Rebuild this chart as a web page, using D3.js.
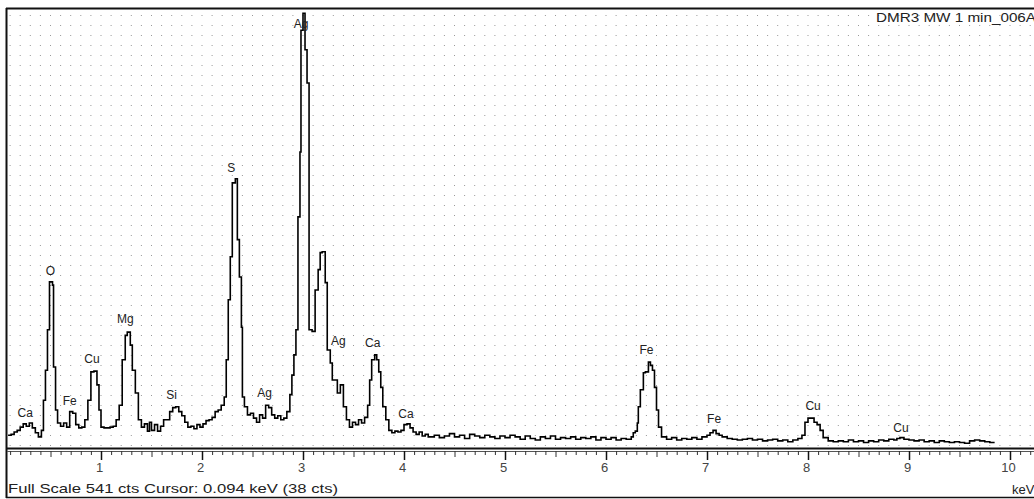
<!DOCTYPE html>
<html><head><meta charset="utf-8">
<script src="https://cdn.jsdelivr.net/npm/d3@7"></script>
<style>html,body{margin:0;padding:0;background:#fff;overflow:hidden}svg{display:block}</style>
</head><body>
<script>
// ---- data ----
const energyKeV = [0.08,0.11,0.14,0.17,0.20,0.23,0.26,0.29,0.32,0.35,0.38,0.41,0.43,0.45,0.47,0.49,0.52,0.53,0.55,0.57,0.60,0.63,0.66,0.69,0.72,0.75,0.78,0.81,0.84,0.87,0.90,0.93,0.96,0.98,1.00,1.03,1.06,1.09,1.12,1.15,1.18,1.21,1.24,1.26,1.29,1.31,1.34,1.37,1.40,1.43,1.46,1.48,1.50,1.53,1.56,1.59,1.62,1.65,1.68,1.71,1.74,1.77,1.80,1.83,1.86,1.89,1.92,1.95,1.98,2.01,2.04,2.07,2.10,2.13,2.16,2.19,2.22,2.24,2.26,2.28,2.30,2.33,2.35,2.37,2.39,2.40,2.42,2.45,2.48,2.51,2.54,2.57,2.60,2.63,2.66,2.69,2.72,2.75,2.78,2.81,2.84,2.87,2.89,2.91,2.93,2.95,2.97,2.98,3.00,3.02,3.04,3.06,3.09,3.12,3.15,3.17,3.19,3.22,3.24,3.27,3.29,3.32,3.34,3.37,3.40,3.43,3.46,3.49,3.52,3.55,3.58,3.61,3.64,3.66,3.68,3.71,3.73,3.75,3.77,3.79,3.82,3.85,3.88,3.91,3.94,3.97,4.00,4.03,4.06,4.09,4.12,4.15,4.18,4.21,4.24,4.30,4.35,4.40,4.45,4.50,4.55,4.60,4.65,4.70,4.75,4.80,4.85,4.90,4.95,5.00,5.05,5.10,5.15,5.20,5.25,5.30,5.35,5.40,5.45,5.50,5.55,5.60,5.65,5.70,5.75,5.80,5.85,5.90,5.95,6.00,6.05,6.10,6.15,6.20,6.25,6.27,6.29,6.31,6.32,6.34,6.37,6.39,6.42,6.44,6.46,6.48,6.50,6.52,6.55,6.60,6.65,6.70,6.75,6.80,6.85,6.90,6.95,7.00,7.03,7.06,7.09,7.12,7.15,7.20,7.25,7.30,7.35,7.40,7.45,7.50,7.55,7.60,7.65,7.70,7.75,7.80,7.85,7.90,7.94,7.97,8.00,8.03,8.06,8.09,8.12,8.15,8.20,8.25,8.30,8.35,8.40,8.45,8.50,8.55,8.60,8.65,8.70,8.75,8.80,8.85,8.88,8.91,8.95,9.00,9.05,9.10,9.15,9.20,9.25,9.30,9.35,9.40,9.45,9.50,9.55,9.60,9.65,9.70,9.75,9.80,9.84];
const counts = [17,18,21,23,27,31,28,32,26,20,15,23,60,97,147,206,202,101,48,32,28,32,27,46,44,30,26,27,36,60,95,96,79,48,27,26,26,27,28,36,54,110,140,144,128,97,69,36,27,31,22,33,23,30,22,28,36,36,46,51,52,46,41,33,27,28,25,30,27,31,35,36,39,46,48,54,64,110,184,237,328,333,258,212,150,64,52,42,44,38,33,42,38,54,51,42,38,41,36,38,46,67,91,116,147,286,366,516,537,492,451,147,145,196,221,242,243,205,122,106,85,85,69,79,52,36,27,33,30,36,32,39,54,85,110,116,110,95,76,52,36,23,20,22,21,23,30,31,26,21,18,21,16,18,15,17,14,16,19,15,17,13,18,16,14,17,15,13,16,14,17,15,12,16,13,11,15,13,16,12,14,13,15,12,14,13,15,11,14,12,14,11,13,12,15,20,22,32,52,73,94,95,107,103,97,76,48,27,15,12,14,11,13,12,14,12,15,17,20,23,19,17,15,13,12,11,12,13,11,12,10,11,12,10,11,9,11,13,17,33,38,38,33,30,23,14,10,9,10,9,11,9,10,8,10,9,11,10,12,11,13,14,12,11,10,11,9,10,8,10,9,8,9,8,7,10,11,10,9,8,7,7];
const peakLabels = ["Ca","O","Fe","Cu","Mg","Si","S","Ag","Ag","Ag","Ca","Ca","Fe","Fe","Cu","Cu"];
const peakKeV    = [0.25,0.50,0.69,0.91,1.24,1.70,2.29,2.98,2.62,3.35,3.69,4.02,6.40,7.07,8.05,8.92];
const peakCounts = [44,219,60,111,160,67,346,524,69,133,131,43,122,37,53,26];
const tickLabels = ["1","2","3","4","5","6","7","8","9","10"];
const fullScale = 541;
const titleText = "DMR3 MW 1 min_006A";
const statusText = "Full Scale 541 cts  Cursor: 0.094 keV (38 cts)";
const unitText = "keV";

// ---- drawing ----
const W = 1034, H = 499;
const svg = d3.select("body").append("svg").attr("width", W).attr("height", H)
  .style("font-family", "'Liberation Sans', Arial, sans-serif");

const x = d3.scaleLinear().domain([0, 10]).range([0, 1010]);
const y = d3.scaleLinear().domain([0, fullScale]).range([449, 10]);

// dotted grid
const gridG = svg.append("g");
gridG.selectAll("line").data(d3.range(1, 103)).join("line")
  .attr("x1", d => x(d / 10)).attr("x2", d => x(d / 10))
  .attr("y1", 15).attr("y2", 446)
  .attr("stroke", "#999999").attr("stroke-width", 1)
  .attr("stroke-dasharray", "1 9");

// frame
svg.append("line").attr("x1", 6).attr("x2", W).attr("y1", 8.5).attr("y2", 8.5)
  .attr("stroke", "#111").attr("stroke-width", 2);
svg.append("line").attr("x1", 6.5).attr("x2", 6.5).attr("y1", 8).attr("y2", 498)
  .attr("stroke", "#111").attr("stroke-width", 2);
svg.append("line").attr("x1", 6).attr("x2", W).attr("y1", 497.5).attr("y2", 497.5)
  .attr("stroke", "#111").attr("stroke-width", 1.5);

// axis lines
svg.append("line").attr("x1", 7).attr("x2", W).attr("y1", 448.5).attr("y2", 448.5)
  .attr("stroke", "#111").attr("stroke-width", 2);
svg.append("line").attr("x1", 7).attr("x2", W).attr("y1", 451.5).attr("y2", 451.5)
  .attr("stroke", "#555").attr("stroke-width", 1);

// minor ticks
const minorAxis = d3.axisBottom(x).tickValues(d3.range(1, 103).map(d => d / 10))
  .tickSize(4).tickFormat("");
const gMinor = svg.append("g").attr("transform", "translate(0,451)").call(minorAxis);
gMinor.select(".domain").remove();
gMinor.selectAll("line").attr("stroke", "#333")
  .attr("y2", (d) => (Math.abs(d * 2 - Math.round(d * 2)) < 1e-6 ? 6 : 4));

// major ticks with labels
const majorAxis = d3.axisBottom(x).tickValues(d3.range(1, 11))
  .tickSize(9).tickPadding(3).tickFormat((d, i) => tickLabels[i]);
const gMajor = svg.append("g").attr("transform", "translate(0,451)").call(majorAxis);
gMajor.select(".domain").remove();
gMajor.selectAll("line").attr("stroke", "#111").attr("stroke-width", 1.5);
gMajor.selectAll("text").attr("font-size", 13).attr("fill", "#444").attr("dx", "-2")
  .attr("font-family", "'Liberation Sans', Arial, sans-serif");

// spectrum
const pts = energyKeV.map((e, i) => [e, counts[i]]);
svg.append("path").datum(pts)
  .attr("d", d3.line().x(d => x(d[0])).y(d => y(d[1])).curve(d3.curveStepAfter))
  .attr("fill", "none").attr("stroke", "#000").attr("stroke-width", 1.6);

// peak labels
svg.append("g").selectAll("text").data(peakLabels).join("text")
  .attr("x", (d, i) => x(peakKeV[i])).attr("y", (d, i) => y(peakCounts[i]))
  .attr("dy", "0.35em").attr("text-anchor", "middle")
  .attr("font-size", 12).attr("fill", "#222").text(d => d);

// texts
svg.append("text").attr("x", 876).attr("y", 22).attr("font-size", 13).attr("fill", "#222")
  .attr("textLength", 160).attr("lengthAdjust", "spacingAndGlyphs").text(titleText);
svg.append("text").attr("x", 8).attr("y", 493).attr("font-size", 13).attr("fill", "#222")
  .attr("textLength", 330).attr("lengthAdjust", "spacingAndGlyphs").text(statusText);
svg.append("text").attr("x", 1012).attr("y", 494).attr("font-size", 13).attr("fill", "#222")
  .text(unitText);
</script>
</body></html>
